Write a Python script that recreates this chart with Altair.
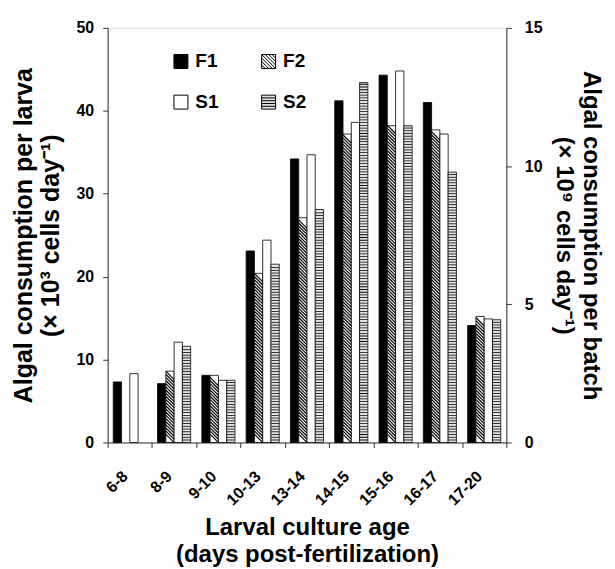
import altair as alt
import numpy as np
import pandas as pd

# ---- data ----
ages = ["6-8", "8-9", "9-10", "10-13", "13-14", "14-15", "15-16", "16-17", "17-20"]
series = ["F1", "F2", "S1", "S2"]
f1 = [7.3, 7.1, 8.1, 23.1, 34.2, 41.2, 44.3, 41.0, 14.1]
f2 = [None, 8.6, 8.1, 20.4, 27.1, 37.2, 38.2, 37.7, 15.2]
s1 = [8.3, 12.1, 7.5, 24.4, 34.7, 38.6, 44.8, 37.2, 14.9]
s2 = [None, 11.6, 7.5, 21.5, 28.1, 43.4, 38.2, 32.6, 14.8]
left_ticks = [0, 10, 20, 30, 40, 50]
right_ticks = [0, 5, 10, 15]

FONT = "Liberation Sans"

rows = []
for name, vals in zip(series, [f1, f2, s1, s2]):
    for a, v in zip(ages, vals):
        if v is not None:
            rows.append({"age": a, "series": name, "value": v})
df = pd.DataFrame(rows)

# hatching helpers derived from the bar values
hatch_rows, stripe_rows = [], []
for a, v in zip(ages, f2):
    if v is not None:
        for y in np.arange(0.5, v - 0.45, 0.38):
            hatch_rows.append({"age": a, "series": "F2", "value": float(y)})
for a, v in zip(ages, s2):
    if v is not None:
        for y in np.arange(0.3, v - 0.15, 0.33):
            stripe_rows.append({"age": a, "series": "S2", "value": float(y)})
hatch_df = pd.DataFrame(hatch_rows)
stripe_df = pd.DataFrame(stripe_rows)

fill_range = ["black", "white", "white", "#e4e4e4"]
sq = "M-1,-1H1V1H-1Z"
diag = sq + " M0.5,-1L1,-0.5 M0,-1L1,0 M-0.5,-1L1,0.5 M-1,-1L1,1 M-1,-0.5L0.5,1 M-1,0L0,1 M-1,0.5L-0.5,1"
horiz = sq + " M-1,-0.6H1 M-1,-0.2H1 M-1,0.2H1 M-1,0.6H1"
shape_scale = alt.Scale(domain=series, range=[sq, diag, sq, horiz])

x_enc = alt.X(
    "age:N", sort=ages,
    scale=alt.Scale(domain=ages, paddingInner=0, paddingOuter=0),
    axis=alt.Axis(
        title=["Larval culture age", "(days post-fertilization)"],
        titleFont=FONT, titleFontSize=24, titleFontWeight="bold", titleColor="black",
        titlePadding=8,
        labelFont=FONT, labelFontSize=16, labelFontWeight="bold", labelColor="black",
        labelAngle=-45, labelAlign="right", labelBaseline="middle", labelPadding=26,
        labelOffset=-5,
        tickBand="extent", tickSize=5, tickColor="#333", domainColor="#333",
        grid=False,
    ),
)
xo_enc = alt.XOffset("series:N", sort=series,
                     scale=alt.Scale(domain=series, paddingInner=0, paddingOuter=0.675))
y_enc = alt.Y(
    "value:Q",
    scale=alt.Scale(domain=[0, 50], nice=False),
    axis=alt.Axis(
        values=left_ticks,
        title=["Algal consumption per larva", "(× 10³ cells day⁻¹)"],
        titleFont=FONT, titleFontSize=25, titleFontWeight="bold", titleColor="black",
        titlePadding=13,
        labelFont=FONT, labelFontSize=16, labelFontWeight="bold", labelColor="black",
        labelPadding=9, tickSize=5, tickColor="#333", domainColor="#333", grid=False,
    ),
)

fill_expr = " : ".join(
    f"datum.series == '{s}' ? '{c}'" for s, c in zip(series[:-1], fill_range[:-1])
) + f" : '{fill_range[-1]}'"

bars = alt.Chart(df).transform_calculate(fc=fill_expr).mark_bar(
    stroke="black", strokeWidth=0.8
).encode(
    x=x_enc, xOffset=xo_enc, y=y_enc,
    fill=alt.Fill("fc:N", scale=None),
)
hatch = alt.Chart(hatch_df).mark_point(
    shape="M-1,-1L1,1", filled=False, stroke="black", strokeWidth=1.2, size=64, opacity=1
).encode(x=x_enc, xOffset=xo_enc, y=y_enc)
stripes = alt.Chart(stripe_df).mark_tick(
    color="black", thickness=0.8, size=7.5, opacity=1
).encode(x=x_enc, xOffset=xo_enc, y=y_enc)

legend_df = pd.DataFrame({"series": series})
leg = alt.Legend(
    title=None, orient="none", legendX=64, legendY=24, columns=2, direction="horizontal",
    symbolSize=196, symbolStrokeColor="black", symbolStrokeWidth=1,
    labelFont=FONT, labelFontSize=19, labelFontWeight="bold", labelColor="black",
    labelOffset=5, columnPadding=40, rowPadding=21, padding=0,
)
legend_layer = alt.Chart(legend_df).mark_point(
    filled=True, stroke="black", strokeWidth=1, clip=True, opacity=1
).encode(
    y=alt.value(3000),
    fill=alt.Fill("series:N", scale=alt.Scale(domain=series, range=fill_range), legend=leg),
    shape=alt.Shape("series:N", scale=shape_scale, legend=leg),
)

main = alt.layer(bars, hatch, stripes, legend_layer)

right_df = pd.DataFrame({"r": right_ticks})
right = alt.Chart(right_df).mark_point(opacity=0).encode(
    y=alt.Y(
        "r:Q",
        scale=alt.Scale(domain=[0, 15], nice=False),
        axis=alt.Axis(
            orient="right", values=right_ticks,
            title=["Algal consumption per batch", "(× 10⁹ cells day⁻¹)"],
            titleFont=FONT, titleFontSize=24, titleFontWeight="bold", titleColor="black",
            titlePadding=10,
            labelFont=FONT, labelFontSize=16, labelFontWeight="bold", labelColor="black",
            labelPadding=13, tickSize=5, tickColor="#333", domainColor="#333", grid=False,
        ),
    )
)

chart = (
    alt.layer(main, right)
    .resolve_scale(y="independent")
    .properties(width=400, height=416, padding={"left": 3, "top": 11, "right": 4, "bottom": 0})
    .configure_view(strokeWidth=0)
    .configure(style={"guide-title": {"lineHeight": 27}})
)

chart.save("out.html", embed_options={"renderer": "svg", "actions": False})
